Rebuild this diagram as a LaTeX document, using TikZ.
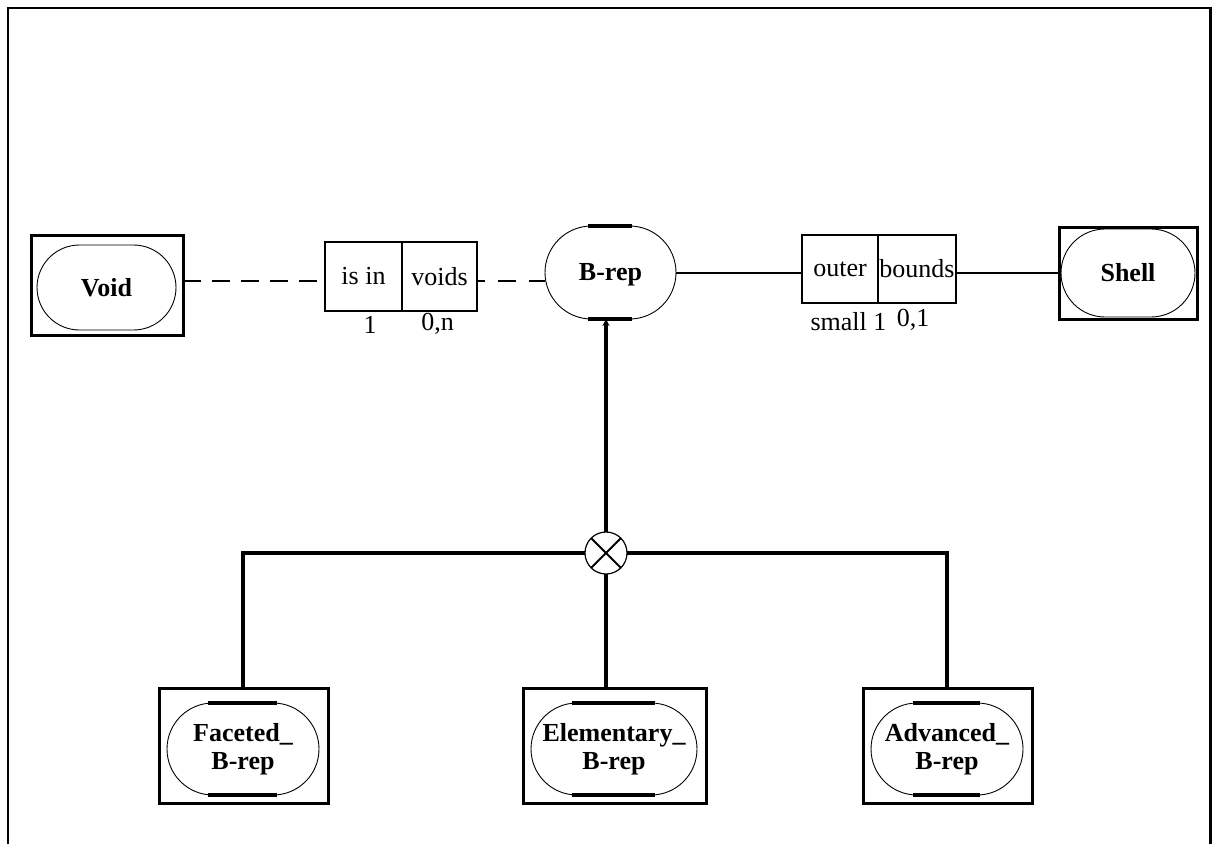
\documentclass[tikz,border=0pt]{standalone}
\usepackage{fontspec}
\setmainfont{Liberation Serif}
\usetikzlibrary{arrows.meta}
\begin{document}
\begin{tikzpicture}[x=1pt, y=-1pt,
  frameline/.style={line width=2.5pt},
  entbox/.style={draw, line width=3pt, inner sep=0pt, outer sep=0pt},
  stad/.style={draw, line width=0.9pt, inner sep=0pt, outer sep=0pt,
    rounded corners=#1, align=center,
    font=\bfseries\fontsize{26}{28}\selectfont},
  bar/.style={line width=3.4pt},
  relbox/.style={draw, line width=2.4pt, inner sep=0pt, outer sep=0pt,
    font=\fontsize{26}{28}\selectfont},
  card/.style={anchor=base, inner sep=0pt, font=\fontsize{26}{28}\selectfont},
  relline/.style={line width=2pt},
  optline/.style={line width=2.8pt, dash pattern=on 18pt off 11pt},
  hierline/.style={line width=3.8pt},
  xorcirc/.style={draw, circle, line width=1.2pt, minimum size=42pt, inner sep=0pt, outer sep=0pt}
]
\useasboundingbox[fill=white] (0,0) rectangle (1212,844);

% outer frame, open at the bottom
\draw[frameline] (8,844) -- (8,8) -- (1210.5,8) -- (1210.5,844);

% Void entity
\node[entbox, minimum width=152pt, minimum height=100pt] (voidbox) at (107,285) {};
\node[stad=42.5pt, minimum width=139pt, minimum height=85pt, yshift=-2pt] (void) at (106.5,285.5) {Void};

% is in / voids relation
\node[relbox, minimum width=77pt, minimum height=69pt] (isin) at (363.5,276.5) {is in};
\node[relbox, minimum width=75pt, minimum height=69pt] (voids) at (439.5,276.5) {voids};
\node[card] (cardA) at (370,333) {1};
\node[card] (cardB) at (437.5,330) {0,n};

% B-rep entity
\node[stad=46.5pt, minimum width=131pt, minimum height=93pt, text depth=2pt] (brep) at (610.5,272.5) {B-rep};
\draw[bar] ([xshift=43pt]brep.north west) -- ([xshift=-44pt]brep.north east);
\draw[bar] ([xshift=43pt]brep.south west) -- ([xshift=-44pt]brep.south east);

% outer / bounds relation
\node[relbox, minimum width=76pt, minimum height=68pt] (outer) at (840,269) {outer};
\node[relbox, minimum width=78pt, minimum height=68pt] (bounds) at (917,269) {bounds};
\node[card] (cardC) at (848.5,330) {small 1};
\node[card] (cardD) at (913,326) {0,1};

% Shell entity
\node[entbox, minimum width=138pt, minimum height=92pt] (shellbox) at (1128,273) {};
\node[stad=44pt, minimum width=134pt, minimum height=88pt] (shell) at (1128,273) {Shell};

% dashed optional links
\draw[optline] ([yshift=4pt]voidbox.east) -- ([yshift=-4.5pt]isin.west);
\draw[optline, dash pattern=on 18pt off 13pt, dash phase=10pt] ([yshift=-4.5pt]voids.east) -- ([yshift=-8.5pt]brep.west);

% solid links
\draw[relline] (brep.east) -- (brep.east -| outer.west);
\draw[relline] (bounds.east |- shell.center) -- (shellbox.west);

% supertype / subtype tree
\node[xorcirc] (xor) at (606,553) {};
\draw[line width=1.8pt] (xor.north west) -- (xor.south east);
\draw[line width=1.8pt] (xor.north east) -- (xor.south west);

\node[entbox, minimum width=169pt, minimum height=115pt] (facbox) at (243.5,745.5) {};
\node[stad=46pt, minimum width=152pt, minimum height=92pt] (fac) at (243,749) {Faceted\_\\B-rep};
\draw[bar] ([xshift=41pt]fac.north west) -- ([xshift=-42pt]fac.north east);
\draw[bar] ([xshift=41pt]fac.south west) -- ([xshift=-42pt]fac.south east);

\node[entbox, minimum width=183pt, minimum height=115pt] (elebox) at (614.5,745.5) {};
\node[stad=46pt, minimum width=166pt, minimum height=92pt] (ele) at (614,749) {Elementary\_\\B-rep};
\draw[bar] ([xshift=41pt]ele.north west) -- ([xshift=-42pt]ele.north east);
\draw[bar] ([xshift=41pt]ele.south west) -- ([xshift=-42pt]ele.south east);

\node[entbox, minimum width=169pt, minimum height=115pt] (advbox) at (947.5,745.5) {};
\node[stad=46pt, minimum width=152pt, minimum height=92pt] (adv) at (947,749) {Advanced\_\\B-rep};
\draw[bar] ([xshift=42pt]adv.north west) -- ([xshift=-43pt]adv.north east);
\draw[bar] ([xshift=42pt]adv.south west) -- ([xshift=-43pt]adv.south east);

\coordinate (jl) at (243,553);
\coordinate (jr) at (947,553);
\draw[hierline, -{Stealth[length=7pt, width=7pt]}] (xor.north) -- (xor.north |- brep.south);
\draw[hierline] (xor.west) -- (jl) -- (jl |- facbox.north);
\draw[hierline] (xor.east) -- (jr) -- (jr |- advbox.north);
\draw[hierline] (xor.south) -- (xor.south |- elebox.north);
\end{tikzpicture}
\end{document}
